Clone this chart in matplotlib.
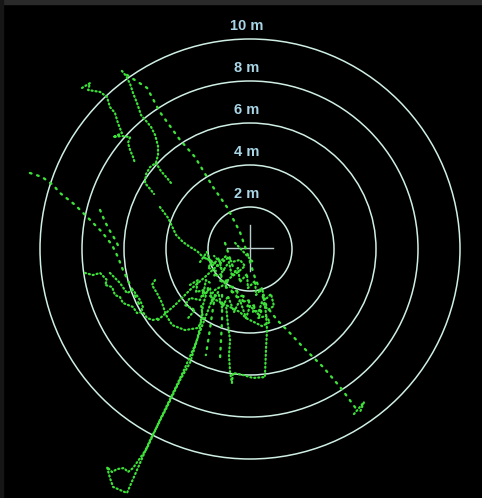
import matplotlib
matplotlib.use("Agg")
import matplotlib.pyplot as plt
from matplotlib.patches import Circle, Rectangle

# range rings (metres) and their labels
ring_radii = [2, 4, 6, 8, 10]
ring_labels = ["2 m", "4 m", "6 m", "8 m", "10 m"]

# logged positions, east / north of the base station in metres
diag_east = [-5.86, -4.90, -4.29, -3.33, -2.62, -1.76, -1.10, -0.48, -0.10, 0.24, 0.81, 1.29, 1.90, 2.52, 3.48, 4.29, 5.10]
diag_north = [8.29, 7.67, 6.52, 5.19, 4.38, 2.95, 2.00, 0.81, -0.29, -1.38, -2.76, -3.38, -4.00, -4.67, -5.62, -6.57, -7.67]

end_east = [4.95, 5.43, 5.24]
end_north = [-7.86, -7.29, -7.76]

ridge_east = [-6.10, -5.90, -5.71, -5.57, -5.38, -5.19, -4.95, -4.71, -4.52, -4.38, -4.38, -4.48, -4.76, -4.95, -5.00, -4.76, -4.57]
ridge_north = [8.48, 8.24, 7.86, 7.43, 6.95, 6.38, 6.10, 5.81, 5.43, 4.90, 4.48, 4.10, 3.90, 3.57, 3.14, 2.86, 2.62]

branch_east = [-4.48, -4.24, -3.95, -3.76]
branch_north = [4.10, 3.71, 3.38, 3.14]

nw_east = [-8.00, -7.62, -7.71, -7.14, -6.81, -6.67, -6.43, -6.29, -6.10, -6.52, -6.10, -5.71, -5.81, -5.71, -5.57, -5.48]
nw_north = [7.67, 7.90, 7.57, 7.48, 7.24, 6.76, 6.48, 6.00, 5.52, 5.33, 5.38, 5.33, 5.05, 4.71, 4.38, 4.10]

west_east = [-10.48, -9.90, -9.38, -9.05, -8.33, -7.52, -7.05, -6.57, -6.29, -6.05, -5.71, -5.38, -5.14]
west_north = [3.62, 3.43, 3.05, 2.67, 2.10, 1.29, 0.81, 0.19, -0.38, -1.00, -1.71, -2.43, -2.90]

west2_east = [-7.14, -6.90, -6.67, -6.38, -6.19]
west2_north = [1.86, 1.29, 0.86, 0.38, -0.05]

sw_east = [-7.86, -7.48, -7.14, -6.81, -6.90, -6.57, -6.43, -6.19, -6.05, -5.57, -5.38, -5.10, -4.90, -4.62, -4.29]
sw_north = [-1.14, -1.24, -1.14, -1.48, -1.71, -1.81, -2.19, -2.29, -2.57, -2.76, -3.05, -3.00, -3.29, -3.38, -3.29]

sw2_east = [-6.67, -6.19, -5.86, -5.57, -5.24, -5.10]
sw2_north = [-1.14, -1.62, -2.10, -1.95, -2.43, -2.76]

loop_east = [-4.52, -4.67, -4.43, -4.19, -4.00, -3.71, -3.10, -2.48, -2.24, -2.33]
loop_north = [-1.48, -1.71, -2.10, -2.57, -3.14, -3.62, -3.86, -3.76, -3.29, -2.67]

south_east = [-2.00, -2.24, -2.38, -2.52, -2.86, -3.33, -3.95, -4.76, -5.86, -6.52, -6.67, -6.81,
              -6.57, -6.33, -6.00, -5.81, -5.57, -4.90, -4.29, -3.67, -3.10, -2.62, -2.14, -1.81]
south_north = [-1.86, -2.67, -3.71, -4.33, -5.43, -6.24, -7.52, -9.10, -11.62, -11.33, -10.90, -10.38,
               -10.62, -10.48, -10.43, -10.62, -10.43, -9.48, -8.14, -6.86, -5.67, -4.57, -3.29, -2.43]

box_east = [0.62, 0.76, 0.81, 0.76, 0.71, 0.14, -0.33, -0.81, -0.86, -0.95, -1.00, -0.95, -1.05, -1.14]
box_north = [-2.19, -3.05, -3.86, -4.81, -6.10, -6.14, -6.00, -5.90, -6.38, -5.86, -5.05, -4.33, -3.62, -2.67]

fan_a_east = [-1.67, -1.81, -1.95, -2.10]
fan_a_north = [-2.19, -3.14, -4.10, -5.05]
fan_b_east = [-1.33, -1.33, -1.38, -1.43]
fan_b_north = [-2.19, -3.38, -4.33, -5.29]

approach_east = [-4.29, -3.90, -3.52, -3.19, -2.86, -2.52, -2.24, -1.90, -1.57, -1.24]
approach_north = [2.00, 1.48, 0.67, 0.33, 0.10, -0.10, -0.38, -0.52, -0.76, -1.00]

chord_east = [-4.38, -3.57, -2.86, -2.14, -1.52, -1.05]
chord_north = [-3.38, -2.67, -1.95, -1.33, -0.76, -0.43]

drop_east = [-1.19, -1.05, -0.90, -0.71]
drop_north = [0.29, -0.14, -0.62, -1.10]

slash_east = [-0.71, 0.14]
slash_north = [0.29, -0.62]

core_east = [-2.14, -1.81, -2.00, -1.62, -1.71, -1.33, -1.43, -1.05, -1.19, -0.81, -0.90, -0.57, -0.67, -0.29,
             -0.38, 0.00, -0.14, 0.24, 0.14, 0.57, 0.38, 0.76, 0.95, 0.57, 0.19, -0.19, -0.48, -0.86, -1.24,
             -1.62, -1.90, -1.67, -1.33, -0.95, -0.57, -0.24, -0.48, -0.86, -1.14, -1.43, -1.71]
core_north = [-0.43, -0.62, -0.90, -1.00, -1.29, -1.19, -1.57, -1.48, -1.86, -1.76, -2.10, -1.95, -2.33, -2.19,
              -2.52, -2.43, -2.76, -2.67, -3.00, -2.90, -3.29, -3.19, -3.48, -3.67, -3.48, -3.29, -3.00, -2.81,
              -2.62, -2.43, -2.24, -1.95, -1.76, -1.38, -1.10, -0.81, -0.52, -0.62, -0.33, -0.62, -0.33]

core2_east = [-2.86, -2.48, -2.57, -2.19, -2.38, -2.86, -3.10, -2.62, -2.95]
core2_north = [-1.71, -1.48, -2.05, -1.95, -2.43, -2.33, -2.67, -2.90, -3.29]

core3_east = [-2.38, -2.05, -1.81, -1.48, -1.33, -1.00, -0.86, -0.57, -0.48, -0.14, -0.10, 0.24, 0.29, 0.57,
              0.71, 1.00, 1.14, 0.86, 0.57, 0.38, 0.00, -0.19, -0.48, -0.76, -1.05, -1.33, -1.52, -1.81,
              -1.90, -2.24, -2.10, -1.81]
core3_north = [-0.62, -0.14, -0.81, -0.43, -1.10, -0.62, -1.29, -0.90, -1.57, -1.19, -1.86, -1.52, -2.19, -1.86,
               -2.43, -2.14, -2.71, -2.90, -2.52, -3.10, -2.71, -3.29, -2.43, -3.00, -2.24, -2.81, -2.05, -2.52,
               -1.86, -2.24, -1.48, -1.67]

# dotted = sparse fixes while walking, dense = fixes while standing / slow
sparse_tracks = [
    (diag_east, diag_north),
    (west_east, west_north),
    (west2_east, west2_north),
    (fan_a_east, fan_a_north),
    (fan_b_east, fan_b_north),
    (drop_east, drop_north),
]
dense_tracks = [
    (end_east, end_north),
    (ridge_east, ridge_north),
    (branch_east, branch_north),
    (nw_east, nw_north),
    (sw_east, sw_north),
    (sw2_east, sw2_north),
    (loop_east, loop_north),
    (south_east, south_north),
    (box_east, box_north),
    (approach_east, approach_north),
    (chord_east, chord_north),
    (slash_east, slash_north),
    (core_east, core_north),
    (core2_east, core2_north),
    (core3_east, core3_north),
]

ring_color = "#cfeee4"
label_color = "#a9d6e6"
track_color = "#3ee03a"

fig = plt.figure(figsize=(4.82, 4.98), dpi=100, facecolor="black")
ax = fig.add_axes([0, 0, 1, 1])
ax.set_facecolor("black")
ax.set_xlim(-250 / 21, 232 / 21)
ax.set_ylim(-249 / 21, 249 / 21)
ax.axis("off")

for r, lab in zip(ring_radii, ring_labels):
    ax.add_patch(Circle((0, 0), r, fill=False, edgecolor=ring_color, lw=1.1, zorder=2))
    ax.text(-0.14, r + 0.6, lab, color=label_color, fontsize=10.5, fontweight="bold",
            ha="center", va="center", family="Liberation Sans", zorder=4)

# base station marker
ax.plot([-1.1, 1.1], [0.05, 0.05], color="#b8cccc", lw=1.0, zorder=3)
ax.plot([0, 0], [-1.05, 1.15], color="#b8cccc", lw=1.0, zorder=3)

for e, n in sparse_tracks:
    ax.plot(e, n, color=track_color, lw=1.7, linestyle=(0, (0.7, 2.5)),
            dash_capstyle="round", zorder=3)
for e, n in dense_tracks:
    ax.plot(e, n, color=track_color, lw=1.6, linestyle=(0, (0.5, 1.3)),
            dash_capstyle="round", zorder=3)

# window frame strips
fig.patches.append(Rectangle((0, 1 - 4 / 498), 1, 4 / 498, transform=fig.transFigure,
                             color="#2a2a2a", zorder=10))
fig.patches.append(Rectangle((0, 0), 3 / 482, 1, transform=fig.transFigure,
                             color="#161616", zorder=10))

fig.savefig("out.png", dpi=100, facecolor="black")
